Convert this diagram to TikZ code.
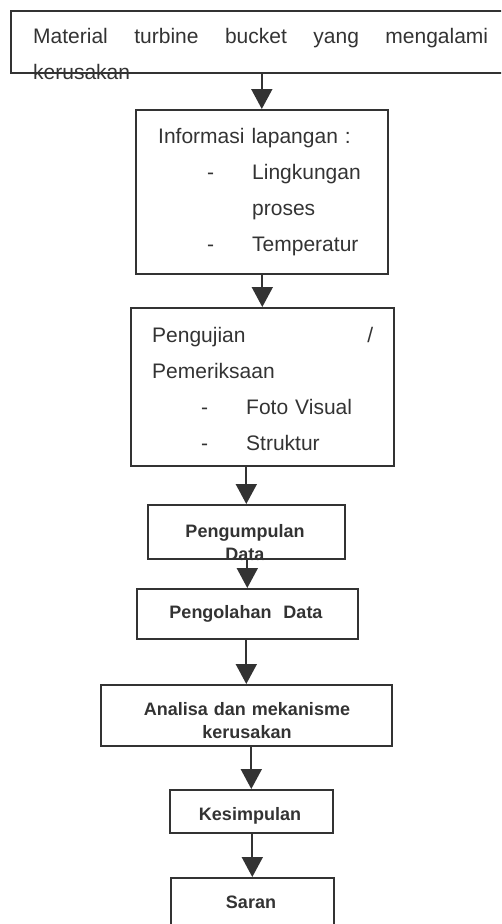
\documentclass[tikz,border=0pt]{standalone}
\usepackage{fontspec}
\setmainfont{Liberation Sans}
\usetikzlibrary{arrows.meta}

\definecolor{ink}{HTML}{333333}

\begin{document}
\begin{tikzpicture}[x = 1pt, y = -1pt, ink,
	box/.style = {draw = ink, line width = 1.6pt, rectangle, anchor = north west, inner sep = 0pt},
	txt/.style = {inner sep = 0pt, anchor = base west, align = left, font = \fontsize{21}{36}\selectfont},
	btxt/.style = {inner sep = 0pt, anchor = base, text width = 240pt, align = center, font = \fontsize{18}{23}\selectfont\bfseries},
	arr/.style = {draw = ink, line width = 1.8pt, -{Triangle[length = 20pt, width = 21pt]}}]
	\useasboundingbox (0, 0) rectangle (501, 924);
	\clip (0, 0) rectangle (501, 924);
	
	\node[box, minimum width = 500pt, minimum height = 62pt] (mat) at (10, 10) {};
	\node[box, minimum width = 252pt, minimum height = 164pt] (info) at (135, 109) {};
	\node[box, minimum width = 263pt, minimum height = 158pt] (uji) at (130, 307) {};
	\node[box, minimum width = 197pt, minimum height = 54pt] (kumpul) at (147, 504) {};
	\node[box, minimum width = 221pt, minimum height = 50pt] (olah) at (136, 588) {};
	\node[box, minimum width = 291pt, minimum height = 61pt] (analisa) at (100, 684) {};
	\node[box, minimum width = 163pt, minimum height = 43pt] (simpul) at (169, 789) {};
	\node[box, minimum width = 163pt, minimum height = 70pt] (saran) at (170, 877) {};
	
	\node[txt, text width = 455pt] (mat-txt) at (33, 43) {Material\hfill turbine\hfill bucket\hfill yang\hfill mengalami\\kerusakan};
	\node[txt, text width = 215pt] (info-txt) at (158, 143) {Informasi lapangan :\\
		\hspace*{49pt}\makebox[45pt][l]{-}Lingkungan\\
		\hspace*{94pt}proses\\
		\hspace*{49pt}\makebox[45pt][l]{-}Temperatur};
	\node[txt, text width = 221pt] (uji-txt) at (152, 342) {Pengujian\hfill /\\
		Pemeriksaan\\
		\hspace*{49pt}\makebox[45pt][l]{-}Foto Visual\\
		\hspace*{49pt}\makebox[45pt][l]{-}Struktur};
	
	\node[btxt] (kumpul-txt) at (245, 537) {Pengumpulan\\Data};
	\node[btxt] (olah-txt) at (246, 618) {Pengolahan\ \ Data};
	\node[btxt] (analisa-txt) at (247, 715) {Analisa dan mekanisme\\kerusakan};
	\node[btxt] (simpul-txt) at (250, 820) {Kesimpulan};
	\node[btxt] (saran-txt) at (251, 908) {Saran};
	
	\draw[arr] (mat.south -| info.north) -- (info.north);
	\draw[arr] (info.south -| uji.north) -- (uji.north);
	\draw[arr] (uji.south -| kumpul.north) -- (kumpul.north);
	\draw[arr] (kumpul.south -| olah.north) -- (olah.north);
	\draw[arr] (olah.south -| analisa.north) -- (analisa.north);
	\draw[arr] (analisa.south -| simpul.north) -- (simpul.north);
	\draw[arr] (simpul.south -| saran.north) -- (saran.north);
\end{tikzpicture}
\end{document}
